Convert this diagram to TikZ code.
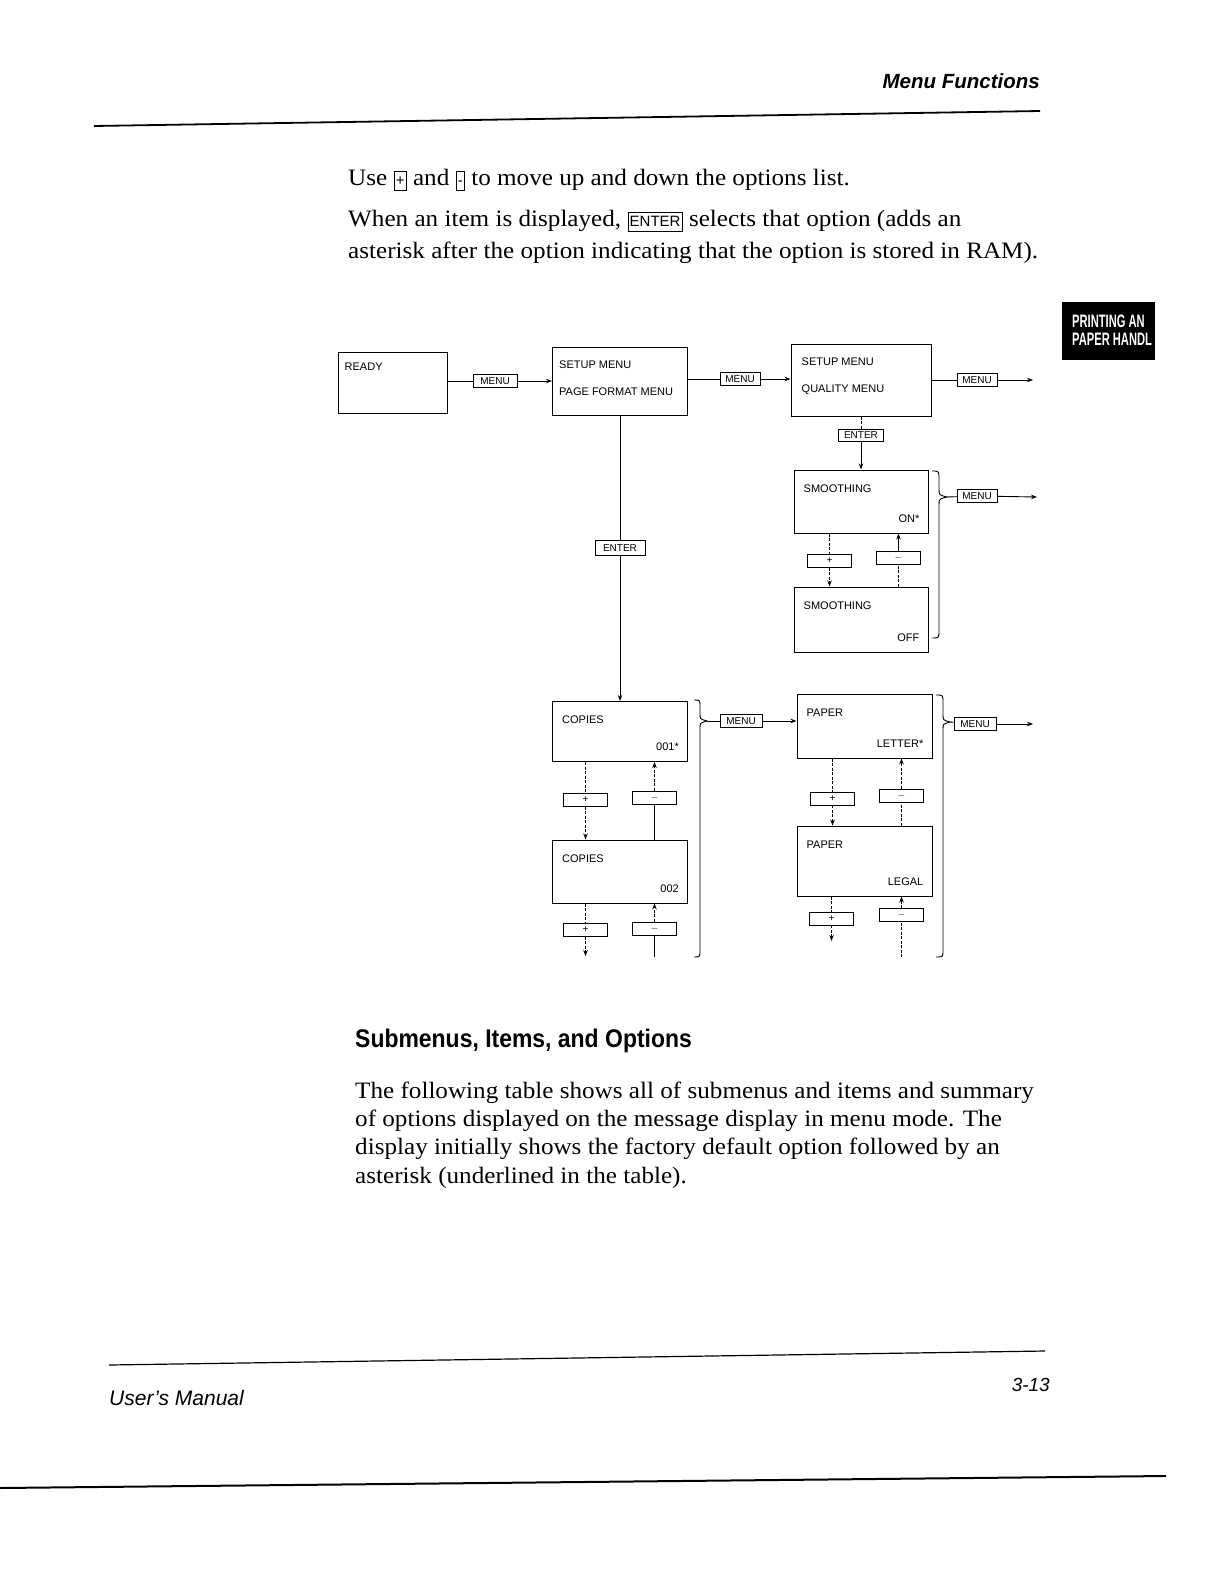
\documentclass[tikz,border=0pt]{standalone}
\usepackage{fontspec}
\setmainfont[FakeStretch=1.07]{Liberation Serif}
\setsansfont{Liberation Sans}
\newfontfamily\condfont[FakeStretch=0.9]{Liberation Sans}
\newfontfamily\tabfont[FakeStretch=0.62]{Liberation Sans}
\usetikzlibrary{arrows.meta, positioning}
\tikzset{
	lcd/.style={draw, line width=1pt, inner sep=0pt},
	lcdtxt/.style={font=\fontsize{11}{13}\sffamily, inner sep=0pt},
	keycap/.style={draw, line width=0.8pt, inner sep=1pt, minimum width=44pt,
		minimum height=13pt, font=\fontsize{10}{12}\sffamily},
	mline/.style={line width=0.9pt},
	marr/.style={-{Stealth[length=6pt,width=4.5pt]}, line width=0.9pt},
	kline/.style={line width=0.7pt, dash pattern=on 3pt off 1.5pt},
	bodytxt/.style={font=\fontsize{23.5}{31}\selectfont, inner sep=0pt, anchor=base west}
}
\newcommand{\txtkey}[1]{{\setlength{\fboxsep}{1.5pt}\setlength{\fboxrule}{0.7pt}\fbox{\rule[-3pt]{0pt}{15pt}\fontsize{15}{15}\sffamily #1}}}
% item display: name, centre, width, height, item, option
\newcommand{\itembox}[6]{%
	\node[lcd, minimum width=#3, minimum height=#4] (#1) at (#2) {};
	\node[lcdtxt, anchor=west] (#1t) at ([shift={(10,19)}]#1.north west) {#5};
	\node[lcdtxt, anchor=east] (#1v) at ([shift={(-9,-15)}]#1.south east) {#6};
}

\begin{document}
\begin{tikzpicture}[x=1pt, y=-1pt]
	\fill[white] (0,0) rectangle (1221,1584);
	\useasboundingbox (0,0) rectangle (1221,1584);

	% page header and text
	\node[anchor=base east, inner sep=0pt, font=\sffamily\bfseries\itshape\fontsize{20.5}{24}\selectfont] (head) at (1040,89) {Menu Functions};
	\draw[line width=1.8pt] (94,126) -- (1040,111);
	\node[bodytxt] (p1) at (348,185) {Use \txtkey{+} and \txtkey{-} to move up and down the options list.};
	\node[bodytxt] (p2a) at (348,226) {When an item is displayed, \txtkey{ENTER} selects that option (adds an};
	\node[bodytxt] (p2b) at (348,258) {asterisk after the option indicating that the option is stored in RAM).};

	\fill (1062,302) rectangle (1155,360);
	\begin{scope}
		\clip (1062,302) rectangle (1155,360);
		\node[anchor=base west, inner sep=0pt, text=white, font=\tabfont\bfseries\fontsize{18}{20}\selectfont] (tab1) at (1072,327) {PRINTING AN};
		\node[anchor=base west, inner sep=0pt, text=white, font=\tabfont\bfseries\fontsize{18}{20}\selectfont] (tab2) at (1072,345) {PAPER HANDL};
	\end{scope}

	% menu level
	\node[lcd, minimum width=109pt, minimum height=61pt] (ready) at (392.5,382.5) {};
	\node[lcdtxt, anchor=west] at ([shift={(7,15)}]ready.north west) {READY};
	\node[lcd, minimum width=135pt, minimum height=68pt] (setpf) at (620,381) {};
	\node[lcdtxt, anchor=west] at ([shift={(7,18)}]setpf.north west) {SETUP MENU};
	\node[lcdtxt, anchor=west] at ([shift={(7,45)}]setpf.north west) {PAGE FORMAT MENU};
	\node[lcd, minimum width=140pt, minimum height=72pt] (setq) at (861,380) {};
	\node[lcdtxt, anchor=west] at ([shift={(11,18)}]setq.north west) {SETUP MENU};
	\node[lcdtxt, anchor=west] at ([shift={(11,46)}]setq.north west) {QUALITY MENU};

	\node[keycap] (m1) at (495,381) {MENU};
	\node[keycap, minimum width=40pt] (m2) at (740,379) {MENU};
	\node[keycap, minimum width=40pt] (m3) at (977,380) {MENU};
	\coordinate (out3) at (1033,380);
	\draw[mline] (ready.east |- m1) -- (m1);
	\draw[marr] (m1) -- (m1 -| setpf.west);
	\draw[mline] (setpf.east |- m2) -- (m2);
	\draw[marr] (m2) -- (m2 -| setq.west);
	\draw[mline] (setq.east |- m3) -- (m3);
	\draw[marr] (m3) -- (out3);

	% smoothing
	\node[keycap, minimum width=45pt, minimum height=12pt] (e1) at (861,435) {ENTER};
	\itembox{smon}{861,501.5}{134pt}{63pt}{SMOOTHING}{ON*}
	\itembox{smoff}{861,619.5}{134pt}{65pt}{SMOOTHING}{OFF}
	\draw[kline] (setq) -- (e1);
	\draw[marr] (e1) -- (smon);
	\node[keycap] (k1) at (829.5,561) {+};
	\node[keycap] (k2) at (898.5,557.5) {$-$};
	\draw[kline] (smon.south -| k1) -- (k1);
	\draw[kline, marr] (k1) -- (k1 |- smoff.north);
	\draw[kline] (smoff.north -| k2) -- (k2);
	\draw[marr] (k2) -- (k2 |- smon.south);
	\draw[mline] (932,471) .. controls (939,471) .. (939,479) -- (939,489) .. controls (939,495) .. (947,497)
		.. controls (939,499) .. (939,505) -- (939,630) .. controls (939,638) .. (932,638);
	\coordinate (b1tip) at (947,497);
	\node[keycap, minimum width=40pt] (m4) at (977,496) {MENU};
	\coordinate (out4) at (1037,497);
	\draw[mline] (b1tip) -- (m4);
	\draw[marr] (m4) -- (out4);

	% copies
	\node[keycap, minimum width=50pt, minimum height=15pt] (e2) at (620,548) {ENTER};
	\itembox{cop1}{620,731.5}{135pt}{60pt}{COPIES}{001*}
	\itembox{cop2}{620,871.5}{135pt}{63pt}{COPIES}{002}
	\draw[mline] (setpf) -- (e2);
	\draw[marr] (e2) -- (cop1);
	\node[keycap] (k3) at (585.5,800) {+};
	\node[keycap] (k4) at (654.5,797.5) {$-$};
	\node[keycap] (k5) at (585.5,930) {+};
	\node[keycap] (k6) at (654.5,928.5) {$-$};
	\coordinate (cdn) at (585.5,956);
	\coordinate (cup) at (654.5,957);
	\draw[kline] (cop1.south -| k3) -- (k3);
	\draw[kline, marr] (k3) -- (k3 |- cop2.north);
	\draw[mline] (cop2.north -| k4) -- (k4);
	\draw[kline, marr] (k4) -- (k4 |- cop1.south);
	\draw[kline] (cop2.south -| k5) -- (k5);
	\draw[kline, marr] (k5) -- (cdn);
	\draw[mline] (cup) -- (k6);
	\draw[kline, marr] (k6) -- (k6 |- cop2.south);
	\draw[mline] (694,700) .. controls (700,700) .. (700,707) -- (700,714) .. controls (700,719) .. (707,721)
		.. controls (700,723) .. (700,728) -- (700,950) .. controls (700,957) .. (694,957);
	\coordinate (b2tip) at (707,721);
	\node[keycap, minimum width=42pt] (m5) at (741,721) {MENU};

	% paper
	\itembox{pap1}{864.5,726}{135pt}{64pt}{PAPER}{LETTER*}
	\itembox{pap2}{864.5,861}{135pt}{70pt}{PAPER}{LEGAL}
	\draw[mline] (b2tip) -- (m5);
	\draw[marr] (m5) -- (m5 -| pap1.west);
	\node[keycap] (k7) at (832.5,798.5) {+};
	\node[keycap] (k8) at (901.5,795.5) {$-$};
	\node[keycap] (k9) at (831.5,918.5) {+};
	\node[keycap] (k10) at (901.5,915) {$-$};
	\coordinate (pdn) at (831.5,941);
	\coordinate (pup) at (901.5,957);
	\draw[kline] (pap1.south -| k7) -- (k7);
	\draw[kline, marr] (k7) -- (k7 |- pap2.north);
	\draw[kline] (pap2.north -| k8) -- (k8);
	\draw[kline, marr] (k8) -- (k8 |- pap1.south);
	\draw[kline] (pap2.south -| k9) -- (k9);
	\draw[kline, marr] (k9) -- (pdn);
	\draw[kline] (pup) -- (k10);
	\draw[kline, marr] (k10) -- (k10 |- pap2.south);
	\draw[mline] (936,695) .. controls (943,695) .. (943,702) -- (943,715) .. controls (943,720) .. (950,722)
		.. controls (943,724) .. (943,729) -- (943,950) .. controls (943,957) .. (936,957);
	\coordinate (b3tip) at (950,722);
	\node[keycap, minimum width=42pt] (m6) at (975,724) {MENU};
	\coordinate (out6) at (1033,724);
	\draw[mline] (b3tip) -- (m6);
	\draw[marr] (m6) -- (out6);

	% section text and footer
	\node[anchor=base west, inner sep=0pt, font=\condfont\bfseries\fontsize{25.5}{30}\selectfont] (subhead) at (355,1047) {Submenus, Items, and Options};
	\node[bodytxt] (q1) at (355,1098) {The following table shows all of submenus and items and summary};
	\node[bodytxt] (q2) at (355,1126) {of options displayed on the message display in menu mode. The};
	\node[bodytxt] (q3) at (355,1154) {display initially shows the factory default option followed by an};
	\node[bodytxt] (q4) at (355,1183) {asterisk (underlined in the table).};

	\draw[line width=1.2pt] (109,1365) -- (1045,1351);
	\node[anchor=base west, inner sep=0pt, font=\sffamily\itshape\fontsize{21}{24}\selectfont] (foot) at (109,1405) {User's Manual};
	\node[anchor=base east, inner sep=0pt, font=\sffamily\itshape\fontsize{19}{22}\selectfont] (pageno) at (1050,1391) {3-13};
	\draw[line width=2pt] (0,1488) -- (1166,1476);
\end{tikzpicture}
\end{document}
